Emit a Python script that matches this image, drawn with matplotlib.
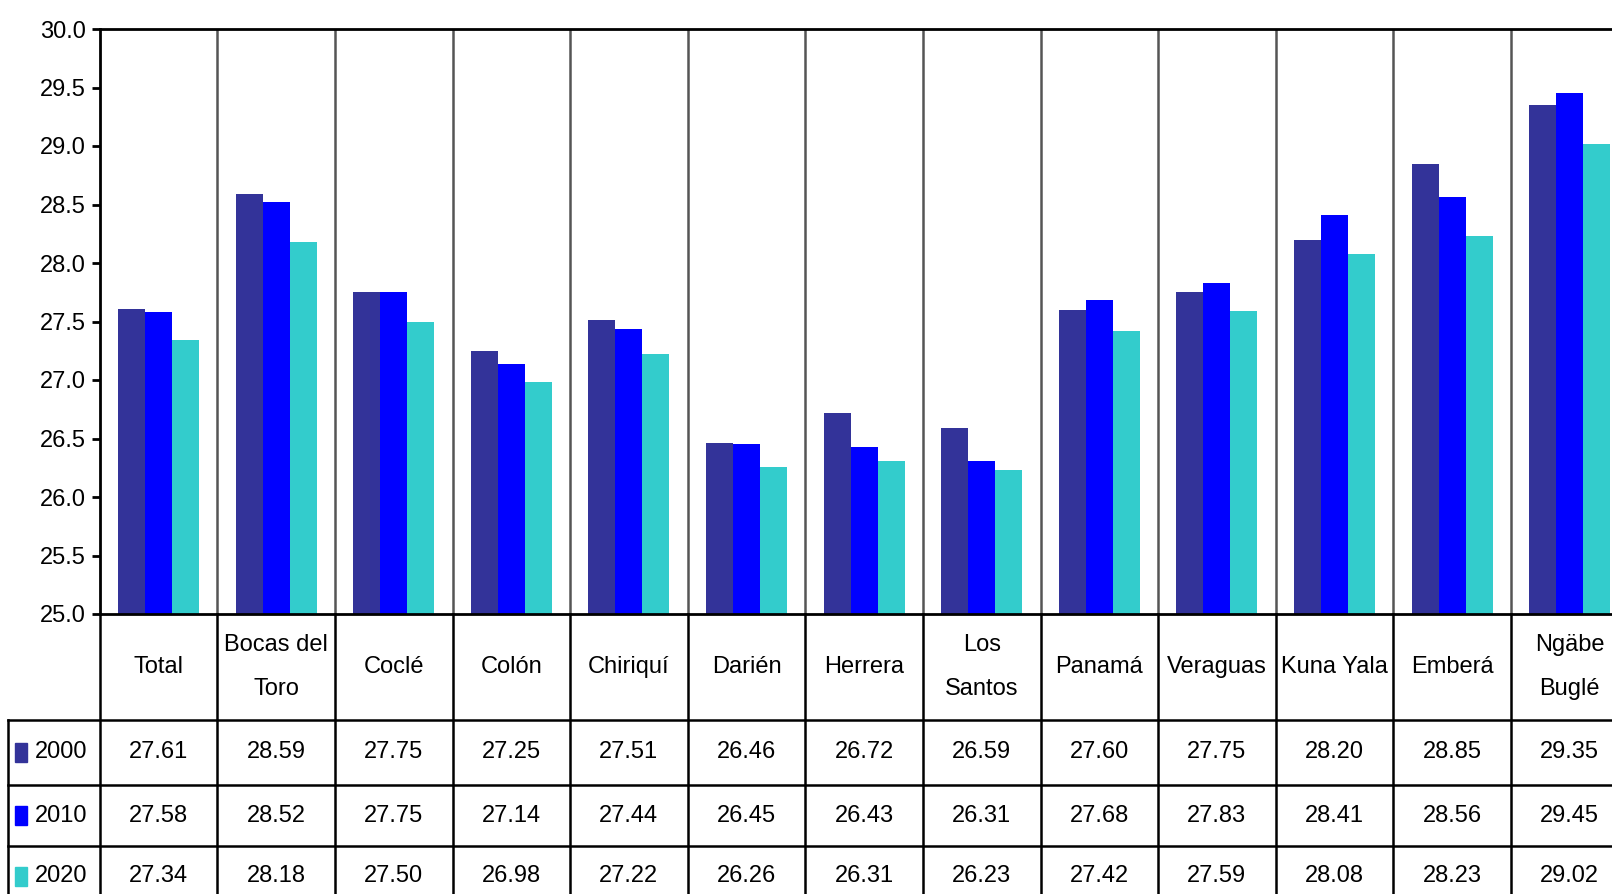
import matplotlib
matplotlib.use('Agg')
import numpy as np
import matplotlib.pyplot as plt
from matplotlib.patches import Rectangle

plt.rcParams['font.family'] = ['Liberation Sans', 'DejaVu Sans']

# data
categories = ['Total', 'Bocas del\nToro', 'Coclé', 'Colón', 'Chiriquí', 'Darién', 'Herrera',
              'Los\nSantos', 'Panamá', 'Veraguas', 'Kuna Yala', 'Emberá', 'Ngäbe\nBuglé']
years = ['2000', '2010', '2020']
v2000 = [27.61, 28.59, 27.75, 27.25, 27.51, 26.46, 26.72, 26.59, 27.60, 27.75, 28.20, 28.85, 29.35]
v2010 = [27.58, 28.52, 27.75, 27.14, 27.44, 26.45, 26.43, 26.31, 27.68, 27.83, 28.41, 28.56, 29.45]
v2020 = [27.34, 28.18, 27.50, 26.98, 27.22, 26.26, 26.31, 26.23, 27.42, 27.59, 28.08, 28.23, 29.02]
series = [v2000, v2010, v2020]
colors = ['#333399', '#0000FF', '#33CCCC']

W, H = 1612, 894
fig = plt.figure(figsize=(W / 100, H / 100), dpi=100)
fs = 17

# axes geometry in pixels (right side runs past the image edge, like the reference)
left_px, top_px, bottom_px = 99.7, 29, 614
col_px = 117.6
n = len(categories)
ax = fig.add_axes([left_px / W, 1 - bottom_px / H, n * col_px / W, (bottom_px - top_px) / H])

bw = 0.23
x = np.arange(n) + 0.5
for k, (vals, c) in enumerate(zip(series, colors)):
    ax.bar(x + (k - 1) * bw, np.array(vals) - 25.0, bottom=25.0, width=bw, color=c,
           edgecolor='none', zorder=2)

ax.set_xlim(0, n)
ax.set_ylim(25.0, 30.0)
ticks = np.arange(25.0, 30.01, 0.5)
ax.set_yticks(ticks)
ax.set_yticklabels(['%.1f' % t for t in ticks], fontsize=fs)
ax.tick_params(axis='y', direction='out', length=6, width=2, pad=4)
ax.set_xticks([])
for s in ['right', 'bottom']:
    ax.spines[s].set_visible(False)
ax.spines['left'].set_linewidth(2)
ax.spines['top'].set_linewidth(2)

# column separators inside the plot
for i in range(1, n):
    ax.axvline(i, color='#555555', lw=1.8, zorder=1)

# table below the plot, y in axes fraction
tr = ax.get_xaxis_transform()
hpx = bottom_px - top_px
def yf(py):
    return (bottom_px - py) / hpx

row_edges = [614, 720, 785, 846, 907]
ye = [yf(p) for p in row_edges]
x_left = (8 - left_px) / col_px

ax.plot([0, n + 1], [0, 0], transform=tr, color='black', lw=2, clip_on=False)
for p in ye[1:4]:
    ax.plot([x_left, n + 1], [p, p], transform=tr, color='black', lw=1.8, clip_on=False)
for i in range(0, n + 1):
    ax.plot([i, i], [0, ye[-1]], transform=tr, color='black', lw=1.8, clip_on=False)
ax.plot([x_left, x_left], [ye[1], ye[-1]], transform=tr, color='black', lw=1.8, clip_on=False)

for i, cat in enumerate(categories):
    ax.text(i + 0.5, (ye[0] + ye[1]) / 2, cat, transform=tr, ha='center', va='center',
            fontsize=fs, linespacing=2.3, clip_on=False)
    for r, vals in enumerate(series):
        ax.text(i + 0.5, (ye[r + 1] + ye[r + 2]) / 2, '%.2f' % vals[i], transform=tr,
                ha='center', va='center', fontsize=fs, clip_on=False)

# row labels with colour keys
for r, (yr, c) in enumerate(zip(years, colors)):
    yc = (ye[r + 1] + ye[r + 2]) / 2
    sq = 12 / col_px
    ax.add_patch(Rectangle(((15 - left_px) / col_px, yc - 0.017), sq, 0.034, transform=tr,
                           color=c, clip_on=False))
    ax.text((35 - left_px) / col_px, yc, yr, transform=tr, ha='left', va='center',
            fontsize=fs, clip_on=False)

fig.savefig('out.png', dpi=100)
